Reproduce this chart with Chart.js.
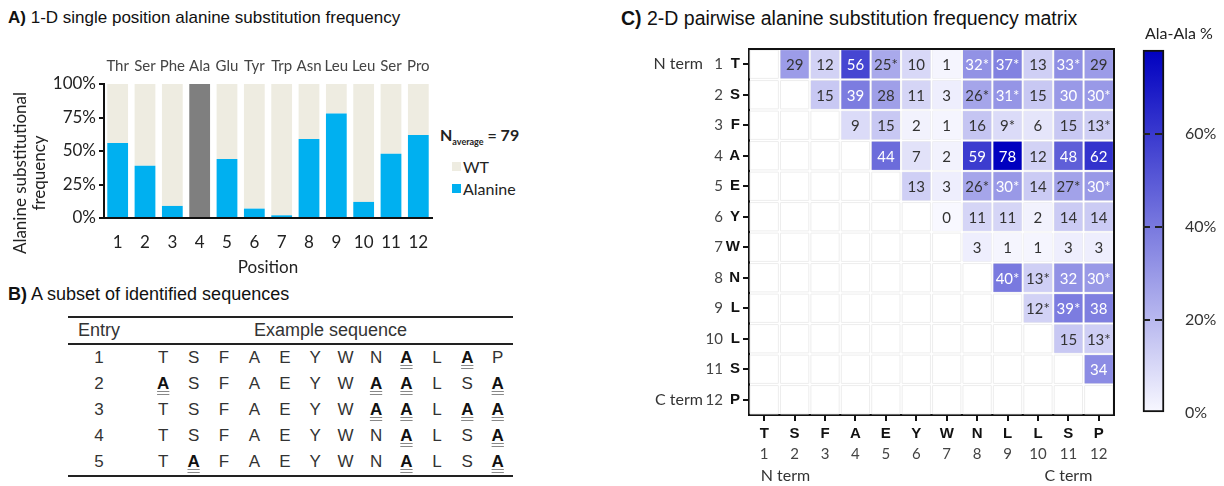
<!DOCTYPE html>
<html>
<head>
<meta charset="utf-8">
<script src="https://cdn.jsdelivr.net/npm/chart.js@4.4.1/dist/chart.umd.min.js"></script>
<style>
body { margin: 0; width: 1224px; height: 486px; background: #fff; position: relative; overflow: hidden; font-family: 'Liberation Sans', Arial, sans-serif; color: #222; }
.abs { position: absolute; white-space: nowrap; }
.ptitle { color: #111; }
canvas { position: absolute; }
#seqTable { position: absolute; left: 68px; top: 316px; width: 445px; border-collapse: collapse; table-layout: fixed; font-size: 17px; color: #333; }
#seqTable th { font-weight: normal; font-size: 18px; height: 25px; border-top: 2px solid #222; border-bottom: 2px solid #222; padding: 0; }
#seqTable td { height: 26px; text-align: center; padding: 0; }
#seqTable tbody tr:last-child td { border-bottom: 2px solid #222; }
.sub { font-weight: bold; color: #111; text-decoration: underline double #888; text-underline-offset: 2px; }
.leg { font-family: Lato, sans-serif; font-size: 16px; color: #222; }
.sw { position: absolute; width: 9px; height: 9px; }
#yTitleA { position: absolute; left: -56px; top: 154px; width: 170px; height: 38px; line-height: 19px; text-align: center; transform: rotate(-90deg); font-family: Lato, sans-serif; font-size: 17px; color: #222; white-space: nowrap; }
</style>
</head>
<body>

<div class="abs ptitle" style="left:8px;top:8px;font-size:17px;"><b>A)</b> 1-D single position alanine substitution frequency</div>
<div class="abs ptitle" style="left:8px;top:284px;font-size:18px;"><b>B)</b> A subset of identified sequences</div>
<div class="abs ptitle" style="left:621px;top:7px;font-size:19.5px;"><b>C)</b> 2-D pairwise alanine substitution frequency matrix</div>

<canvas id="chartA" width="440" height="290" style="left:0;top:0;"></canvas>
<div id="yTitleA">Alanine substitutional<br>frequency</div>
<div class="abs leg" style="left:440px;top:125px;font-weight:bold;">N<sub style="font-size:9px;">average</sub> = 79</div>
<div class="sw" style="left:452px;top:162px;background:#eeece1;"></div>
<div class="abs leg" style="left:463px;top:157px;">WT</div>
<div class="sw" style="left:452px;top:184px;background:#00b0f0;"></div>
<div class="abs leg" style="left:463px;top:179px;">Alanine</div>

<table id="seqTable"></table>

<canvas id="chartC" width="510" height="456" style="left:620px;top:30px;"></canvas>
<canvas id="chartBar" width="94" height="456" style="left:1130px;top:30px;"></canvas>
<div class="abs leg" style="left:1145px;top:23px;">Ala-Ala %</div>

<script>
// panel A
var positions = ['1', '2', '3', '4', '5', '6', '7', '8', '9', '10', '11', '12']
var residues = ['Thr', 'Ser', 'Phe', 'Ala', 'Glu', 'Tyr', 'Trp', 'Asn', 'Leu', 'Leu', 'Ser', 'Pro']
var alaninePct = [56, 39, 9, 100, 44, 7, 2, 59, 78, 12, 48, 62]
var wtPct = [44, 61, 91, 0, 56, 93, 98, 41, 22, 88, 52, 38]
var yTicksA = [0, 25, 50, 75, 100]

// panel B
var wildType = 'TSFAEYWNLLSP'
var sequences = ['TSFAEYWNALAP', 'ASFAEYWAALSA', 'TSFAEYWAALAA', 'TSFAEYWNALSA', 'TAFAEYWNALSA']

// panel C
var oneLetter = ['T', 'S', 'F', 'A', 'E', 'Y', 'W', 'N', 'L', 'L', 'S', 'P']
var pairRows = [
	[null, 29, 12, 56, 25, 10, 1, 32, 37, 13, 33, 29],
	[null, null, 15, 39, 28, 11, 3, 26, 31, 15, 30, 30],
	[null, null, null, 9, 15, 2, 1, 16, 9, 6, 15, 13],
	[null, null, null, null, 44, 7, 2, 59, 78, 12, 48, 62],
	[null, null, null, null, null, 13, 3, 26, 30, 14, 27, 30],
	[null, null, null, null, null, null, 0, 11, 11, 2, 14, 14],
	[null, null, null, null, null, null, null, 3, 1, 1, 3, 3],
	[null, null, null, null, null, null, null, null, 40, 13, 32, 30],
	[null, null, null, null, null, null, null, null, null, 12, 39, 38],
	[null, null, null, null, null, null, null, null, null, null, 15, 13],
	[null, null, null, null, null, null, null, null, null, null, null, 34],
	[null, null, null, null, null, null, null, null, null, null, null, null]
]
// [row, col] of values marked with *
var starredPairs = [[1, 5], [1, 8], [1, 9], [1, 11], [2, 8], [2, 9], [2, 12], [3, 9], [3, 12],
	[5, 8], [5, 9], [5, 11], [5, 12], [8, 9], [8, 10], [8, 12], [9, 10], [9, 11], [10, 12]]
var colorbarTicks = [0, 20, 40, 60]
var colorMax = 78

var blue = '#00b0f0'
var wtColor = '#eeece1'

function cellColor(v) {
	var t = Math.min(v / colorMax, 1)
	var r = Math.round(248 * (1 - t))
	var b = Math.round(255 - 63 * t)
	return 'rgb(' + r + ',' + r + ',' + b + ')'
}

function isStarred(r, c) {
	return starredPairs.some(function (p) { return p[0] === r && p[1] === c })
}

// ---- table B
var tbl = document.getElementById('seqTable')
var html = '<colgroup><col style="width:62px"><col style="width:18px">'
for (var i = 0; i < 12; i++) html += '<col style="width:30.42px">'
html += '</colgroup><thead><tr><th>Entry</th><th></th><th colspan="12">Example sequence</th></tr></thead><tbody>'
sequences.forEach(function (seq, n) {
	html += '<tr><td>' + (n + 1) + '</td><td></td>'
	for (var k = 0; k < seq.length; k++) {
		var ch = seq[k]
		if (ch === 'A' && wildType[k] !== 'A') html += '<td><span class="sub">A</span></td>'
		else html += '<td>' + ch + '</td>'
	}
	html += '</tr>'
})
tbl.innerHTML = html + '</tbody>'

// ---- chart A
var fontA = { family: 'Lato', size: 17 }

new Chart(document.getElementById('chartA'), {
	type: 'bar',
	data: {
		labels: positions,
		datasets: [
			{ label: 'Alanine', data: alaninePct, barPercentage: 0.76, categoryPercentage: 1,
				backgroundColor: function (ctx) { return residues[ctx.dataIndex] === 'Ala' ? '#7f7f7f' : blue } },
			{ label: 'WT', data: wtPct, backgroundColor: wtColor, barPercentage: 0.76, categoryPercentage: 1 }
		]
	},
	options: {
		responsive: false, animation: false, events: [],
		layout: { padding: { left: 8, top: 50, right: 8, bottom: 8 } },
		plugins: { legend: { display: false }, tooltip: { enabled: false } },
		scales: {
			x: {
				stacked: true,
				grid: { display: false },
				border: { color: '#111', width: 2 },
				ticks: { font: fontA, color: '#222', padding: 6, maxRotation: 0 },
				title: { display: true, text: 'Position', font: fontA, color: '#222', padding: { top: 0 } },
				afterFit: function (s) { s.height = 64 }
			},
			xTop: {
				type: 'category', axis: 'x', labels: residues, position: 'top', offset: true,
				grid: { display: false, drawTicks: false },
				border: { display: false },
				ticks: { font: { family: 'Lato', size: 15 }, color: '#444', padding: 9, maxRotation: 0, autoSkip: false },
				afterFit: function (s) { s.height = 34 }
			},
			y: {
				stacked: true, min: 0, max: 100,
				afterBuildTicks: function (s) { s.ticks = yTicksA.map(function (v) { return { value: v } }) },
				ticks: { callback: function (v) { return v + '%' }, font: fontA, color: '#222', padding: 3 },
				grid: { drawOnChartArea: false, tickLength: 5, tickColor: '#111', tickWidth: 2, color: '#111', lineWidth: 2 },
				border: { color: '#111', width: 2 },
				afterFit: function (s) { s.width = 96 }
			}
		}
	}
})

// ---- chart C (matrix)
var heatCells = []
var gridCells = []
pairRows.forEach(function (row, r) {
	row.forEach(function (v, c) {
		gridCells.push({ x: c + 1, y: r + 1 })
		if (v !== null) heatCells.push({ x: c + 1, y: r + 1, v: v, star: isStarred(r + 1, c + 1) })
	})
})

function cellRadius(ctx) {
	var s = ctx.chart.scales.x
	var pitch = Math.abs(s.getPixelForValue(2) - s.getPixelForValue(1))
	return pitch * 0.93 / 2 / Math.SQRT1_2
}

function indexTicks(s) { s.ticks = oneLetter.map(function (_, i) { return { value: i + 1 } }) }

var cellLabels = {
	id: 'cellLabels',
	afterDatasetsDraw: function (chart) {
		var ctx = chart.ctx, xs = chart.scales.x, ys = chart.scales.y
		ctx.save()
		ctx.font = '15px Lato'
		ctx.textAlign = 'center'
		ctx.textBaseline = 'middle'
		heatCells.forEach(function (c) {
			ctx.fillStyle = c.v >= 30 ? '#fff' : '#333'
			ctx.fillText(c.v + (c.star ? '*' : ''), xs.getPixelForValue(c.x), ys.getPixelForValue(c.y) + 1)
		})
		ctx.restore()
	}
}

var frame = {
	id: 'frame',
	afterDraw: function (chart) {
		var a = chart.chartArea, ctx = chart.ctx
		ctx.save()
		ctx.strokeStyle = '#111'
		ctx.lineWidth = 2
		ctx.beginPath()
		ctx.moveTo(a.left, a.top)
		ctx.lineTo(a.right, a.top)
		ctx.lineTo(a.right, a.bottom)
		ctx.stroke()
		ctx.restore()
	}
}

var letterFont = { family: 'Liberation Sans', size: 15, weight: 'bold' }
var numFont = { family: 'Lato', size: 15 }
var termFont = { family: 'Lato', size: 16 }

new Chart(document.getElementById('chartC'), {
	type: 'scatter',
	data: {
		datasets: [
			// value cells first so they are drawn above the empty grid
			{ data: heatCells, pointStyle: 'rect', pointRadius: cellRadius, pointHoverRadius: cellRadius,
				backgroundColor: function (ctx) { return ctx.raw ? cellColor(ctx.raw.v) : '#fff' }, borderWidth: 0 },
			{ data: gridCells, pointStyle: 'rect', pointRadius: cellRadius, pointHoverRadius: cellRadius,
				backgroundColor: '#fff', borderColor: '#ededed', borderWidth: 1 }
		]
	},
	options: {
		responsive: false, animation: false, events: [],
		layout: { padding: { left: 0, top: 19, right: 16, bottom: 0 } },
		plugins: { legend: { display: false }, tooltip: { enabled: false } },
		scales: {
			x: {
				type: 'linear', position: 'bottom', weight: 0, min: 0.5, max: 12.5,
				afterBuildTicks: indexTicks,
				ticks: { callback: function (v) { return oneLetter[v - 1] }, font: letterFont, color: '#111', padding: 4, autoSkip: false, maxRotation: 0 },
				grid: { drawOnChartArea: false, tickLength: 6, color: '#111', lineWidth: 2 },
				border: { color: '#111', width: 2 },
				afterFit: function (s) { s.height = 28 }
			},
			xNum: {
				type: 'linear', axis: 'x', position: 'bottom', weight: 1, min: 0.5, max: 12.5,
				afterBuildTicks: indexTicks,
				ticks: { callback: function (v) { return String(v) }, font: numFont, color: '#444', padding: 2, autoSkip: false, maxRotation: 0 },
				grid: { display: false, drawTicks: false },
				border: { display: false },
				afterFit: function (s) { s.height = 19 }
			},
			xTerm: {
				type: 'linear', axis: 'x', position: 'bottom', weight: 2, min: 0.5, max: 12.5,
				afterBuildTicks: function (s) { s.ticks = [{ value: 1.7 }, { value: 11 }] },
				ticks: { callback: function (v) { return v < 6 ? 'N term' : 'C term' }, font: termFont, color: '#333', padding: 4, autoSkip: false, maxRotation: 0 },
				grid: { display: false, drawTicks: false },
				border: { display: false },
				afterFit: function (s) { s.height = 24 }
			},
			y: {
				type: 'linear', position: 'left', weight: 0, min: 0.5, max: 12.5, reverse: true,
				afterBuildTicks: indexTicks,
				ticks: { callback: function (v) { return oneLetter[v - 1] }, font: letterFont, color: '#111', padding: 3, autoSkip: false },
				grid: { drawOnChartArea: false, tickLength: 6, color: '#111', lineWidth: 2 },
				border: { color: '#111', width: 2 },
				afterFit: function (s) { s.width = 24 }
			},
			yNum: {
				type: 'linear', axis: 'y', position: 'left', weight: 1, min: 0.5, max: 12.5, reverse: true,
				afterBuildTicks: indexTicks,
				ticks: { callback: function (v) { return String(v) }, font: numFont, color: '#444', padding: 2, autoSkip: false },
				grid: { display: false, drawTicks: false },
				border: { display: false },
				afterFit: function (s) { s.width = 20 }
			},
			yTerm: {
				type: 'linear', axis: 'y', position: 'left', weight: 2, min: 0.5, max: 12.5, reverse: true,
				afterBuildTicks: function (s) { s.ticks = [{ value: 1 }, { value: 12 }] },
				ticks: { callback: function (v) { return v === 1 ? 'N term' : 'C term' }, font: termFont, color: '#333', padding: 2, autoSkip: false },
				grid: { display: false, drawTicks: false },
				border: { display: false },
				afterFit: function (s) { s.width = 85 }
			}
		}
	},
	plugins: [cellLabels, frame]
})

// ---- colour bar
new Chart(document.getElementById('chartBar'), {
	type: 'bar',
	data: {
		labels: ['Ala-Ala'],
		datasets: [{
			data: [colorMax], barPercentage: 1, categoryPercentage: 1,
			borderColor: '#111', borderWidth: 2, borderSkipped: false, clip: false,
			backgroundColor: function (ctx) {
				var ys = ctx.chart.scales.y
				var y0 = ys ? ys.getPixelForValue(0) : NaN
				var y1 = ys ? ys.getPixelForValue(colorMax) : NaN
				if (!isFinite(y0) || !isFinite(y1) || y0 === y1) return cellColor(colorMax / 2)
				var g = ctx.chart.ctx.createLinearGradient(0, y0, 0, y1)
				g.addColorStop(0, cellColor(0))
				g.addColorStop(1, cellColor(colorMax))
				return g
			}
		}]
	},
	options: {
		responsive: false, animation: false, events: [],
		layout: { padding: { left: 13, top: 20, right: 0, bottom: 73 } },
		plugins: { legend: { display: false }, tooltip: { enabled: false } },
		scales: {
			x: { display: false },
			y: {
				position: 'right', min: 0, max: colorMax,
				afterBuildTicks: function (s) { s.ticks = colorbarTicks.map(function (v) { return { value: v } }) },
				ticks: { callback: function (v) { return v + '%' }, font: termFont, color: '#333', padding: 2 },
				grid: { drawOnChartArea: true, drawTicks: true, tickLength: 19, tickColor: 'rgba(0,0,0,0)', z: 1, lineWidth: 2,
					color: function (ctx) { return ctx.tick && ctx.tick.value > 0 ? '#222' : 'rgba(0,0,0,0)' } },
				border: { display: false, dash: [7, 5] },
				afterFit: function (s) { s.width = 60 }
			}
		}
	}
})
</script>
</body>
</html>
